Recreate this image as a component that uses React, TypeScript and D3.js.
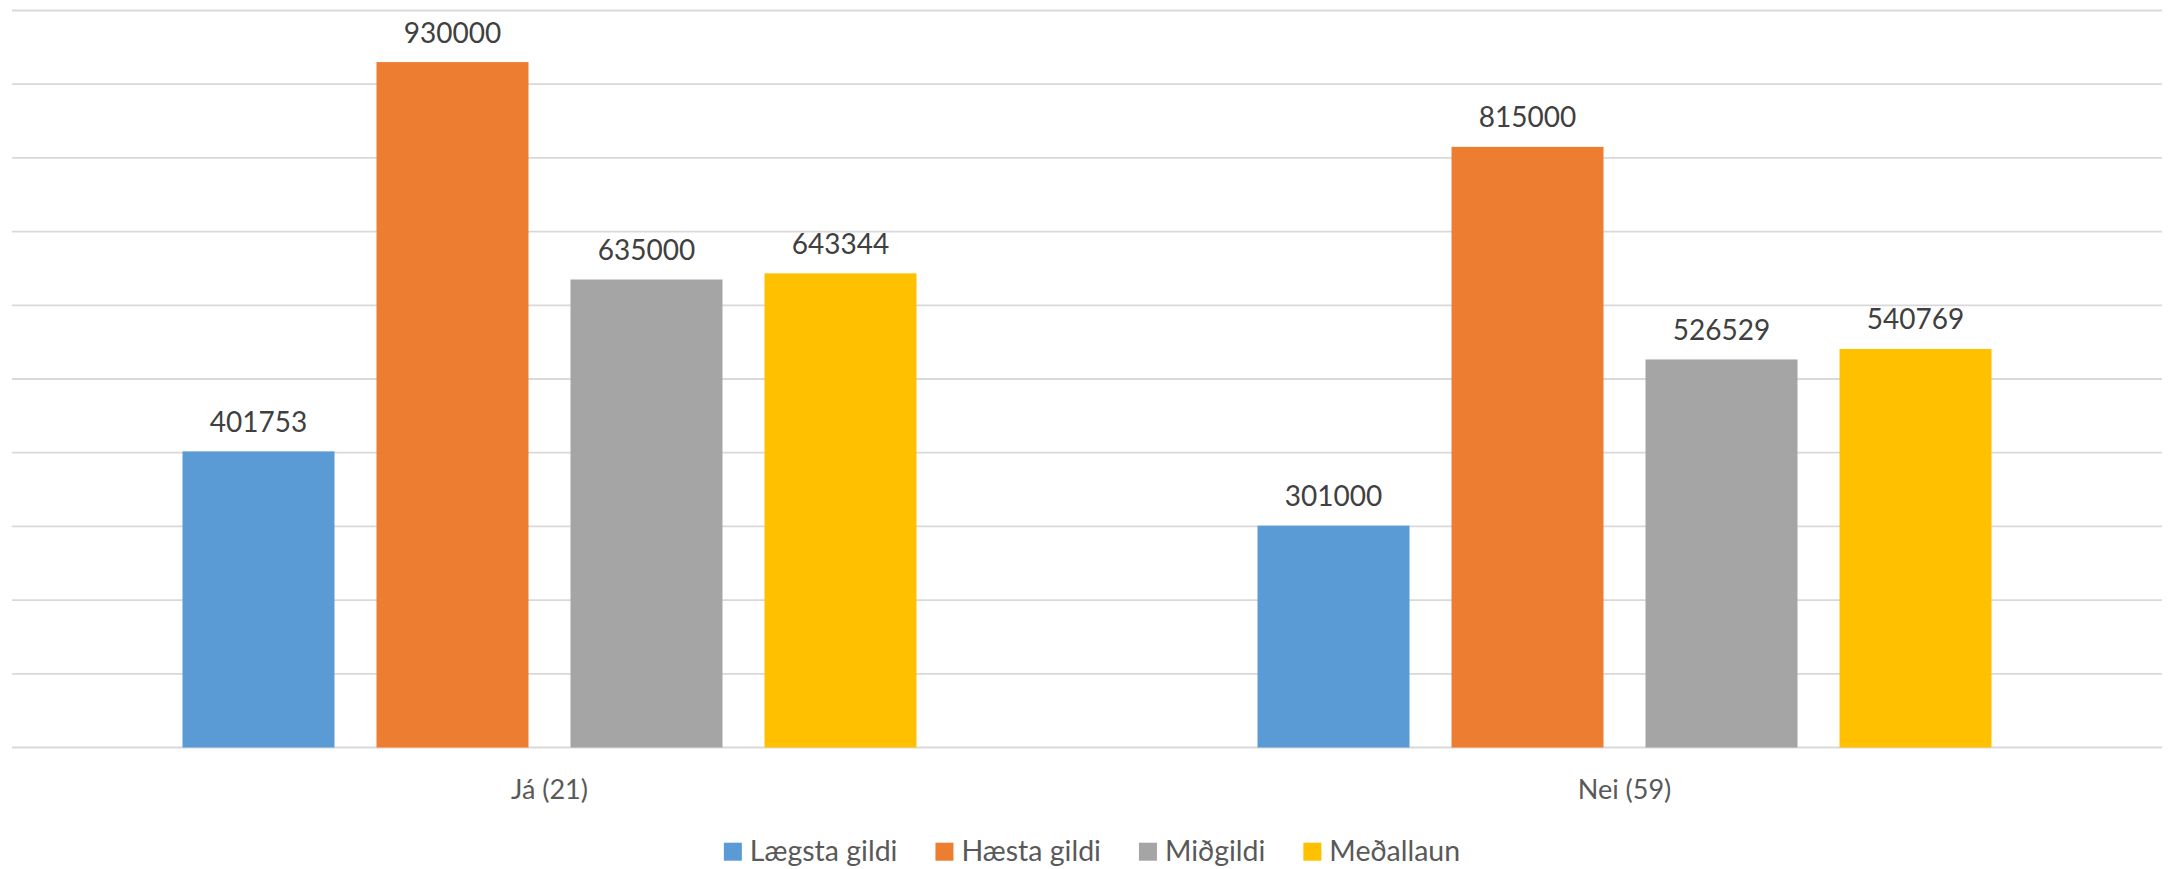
import React, { useEffect, useRef } from "react";
import * as d3 from "d3";

const categories = ["Já (21)", "Nei (59)"];
const seriesNames = ["Lægsta gildi", "Hæsta gildi", "Miðgildi", "Meðallaun"];
const seriesColors = ["#5B9BD5", "#ED7D31", "#A5A5A5", "#FFC000"];
const lowest = [401753, 301000];
const highest = [930000, 815000];
const median = [635000, 526529];
const mean = [643344, 540769];
const yTicks = [0, 100000, 200000, 300000, 400000, 500000, 600000, 700000, 800000, 900000, 1000000];

const W = 2168;
const H = 869;
const FONT = "Lato, 'Open Sans', sans-serif";

export default function App() {
  const ref = useRef<SVGSVGElement | null>(null);

  useEffect(() => {
    document.body.style.margin = "0";
    const svg = d3.select(ref.current);
    svg.selectAll("*").remove();

    const seriesValues = [lowest, highest, median, mean];
    const plotLeft = 12;
    const plotRight = 2162;
    const y = d3.scaleLinear().domain([0, 1000000]).range([747.5, 10.5]);
    const x0 = d3.scaleBand<string>().domain(categories).range([plotLeft, plotRight]).padding(0);
    const outer = 170.5;
    const x1 = d3
      .scaleBand<string>()
      .domain(seriesNames)
      .range([outer, x0.bandwidth() - outer])
      .paddingInner(42 / 194)
      .paddingOuter(0);

    // gridlines
    svg
      .append("g")
      .selectAll("line")
      .data(yTicks)
      .join("line")
      .attr("x1", plotLeft)
      .attr("x2", plotRight)
      .attr("y1", (d) => y(d))
      .attr("y2", (d) => y(d))
      .attr("stroke", "#D9D9D9")
      .attr("stroke-width", 1.8);

    // bars
    const groups = svg
      .append("g")
      .selectAll("g")
      .data(categories)
      .join("g")
      .attr("transform", (d) => `translate(${x0(d)},0)`);

    groups.each(function (cat, ci) {
      const g = d3.select(this);
      seriesNames.forEach((s, si) => {
        const v = seriesValues[si][ci];
        g.append("rect")
          .attr("x", x1(s)!)
          .attr("width", x1.bandwidth())
          .attr("y", y(v))
          .attr("height", y(0) - y(v))
          .attr("fill", seriesColors[si]);
        g.append("text")
          .attr("x", x1(s)! + x1.bandwidth() / 2)
          .attr("y", y(v) - 19.5)
          .attr("text-anchor", "middle")
          .attr("font-family", FONT)
          .attr("font-size", 28)
          .attr("fill", "#404040")
          .text(String(v));
      });
    });

    // category labels
    svg
      .append("g")
      .selectAll("text")
      .data(categories)
      .join("text")
      .attr("x", (d) => x0(d)! + x0.bandwidth() / 2)
      .attr("y", 799)
      .attr("text-anchor", "middle")
      .attr("font-family", FONT)
      .attr("font-size", 27)
      .attr("fill", "#595959")
      .text((d) => d);

    // legend
    const legend = svg.append("g");
    let cx = 0;
    const sq = 18;
    seriesNames.forEach((s, i) => {
      const item = legend.append("g").attr("transform", `translate(${cx},0)`);
      item
        .append("rect")
        .attr("x", 0)
        .attr("y", 842.7)
        .attr("width", sq)
        .attr("height", sq)
        .attr("fill", seriesColors[i]);
      const t = item
        .append("text")
        .attr("x", sq + 8)
        .attr("y", 861)
        .attr("font-family", FONT)
        .attr("font-size", 28.5)
        .attr("fill", "#595959")
        .text(s);
      const tw = (t.node() as SVGTextElement).getComputedTextLength();
      cx += sq + 8 + tw + 38;
    });
    const total = cx - 38;
    legend.attr("transform", `translate(${1092 - total / 2},0)`);
  }, []);

  return <svg ref={ref} width={W} height={H} style={{ display: "block", background: "#fff" }} />;
}
